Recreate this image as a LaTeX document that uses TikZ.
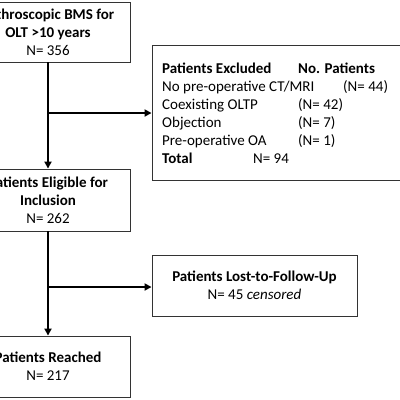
\documentclass[tikz,border=0pt]{standalone}
\usepackage{fontspec}
\setmainfont{Carlito}
\usetikzlibrary{arrows.meta}
\tikzset{
  box/.style={draw=black!80, line width=0.9pt, rectangle, inner sep=0pt, align=center, font=\fontsize{15}{18}\selectfont},
  txt/.style={anchor=base west, inner sep=0pt, font=\fontsize{15}{18}\selectfont},
  flow/.style={line width=2pt, -{Triangle[length=7pt,width=7pt]}},
  plain/.style={line width=2pt}
}
\begin{document}
\begin{tikzpicture}[x=1pt,y=-1pt]
\useasboundingbox (0,0) rectangle (400,400);
\clip (0,0) rectangle (400,400);
\node[box, minimum width=164pt, minimum height=60pt] (b1) at (48,32) {\textbf{Arthroscopic BMS for}\\\textbf{OLT >10 years}\\N= 356};
\node[box, minimum width=164pt, minimum height=62pt] (b2) at (48,200) {\textbf{Patients Eligible for}\\\textbf{Inclusion}\\N= 262};
\node[box, minimum width=164pt, minimum height=61pt] (b4) at (48,366.5) {\textbf{Patients Reached}\\N= 217};
\node[box, minimum width=268pt, minimum height=135pt] (ex) at (286,112.5) {};
\node[box, minimum width=205pt, minimum height=61pt] (lost) at (254.5,285.5) {\textbf{Patients Lost-to-Follow-Up}\\N= 45 \textit{censored}};
% excluded texts
\node[txt] (e1a) at (162,73) {\textbf{Patients Excluded}};
\node[txt] (e1b) at (298,73) {\textbf{No. Patients}};
\node[txt] (e2a) at (162,91) {No pre-operative CT/MRI};
\node[txt] (e2b) at (343,91) {(N= 44)};
\node[txt] (e3a) at (162,109) {Coexisting OLTP};
\node[txt] (e3b) at (298,109) {(N= 42)};
\node[txt] (e4a) at (162,127) {Objection};
\node[txt] (e4b) at (298,127) {(N= 7)};
\node[txt] (e5a) at (162,145) {Pre-operative OA};
\node[txt] (e5b) at (298,145) {(N= 1)};
\node[txt] (e6a) at (162,163) {\textbf{Total}};
\node[txt] (e6b) at (253,163) {N= 94};
% connectors
\coordinate (j1) at (b1.south |- 0,113);
\coordinate (j2) at (b2.south |- 0,287);
\draw[plain] (b1.south) -- (j1);
\draw[flow] (j1) -- (b2.north);
\draw[flow] (j1) -- (j1 -| ex.west);
\draw[plain] (b2.south) -- (j2);
\draw[flow] (j2) -- (b4.north);
\draw[flow] (j2) -- (j2 -| lost.west);
\end{tikzpicture}
\end{document}
